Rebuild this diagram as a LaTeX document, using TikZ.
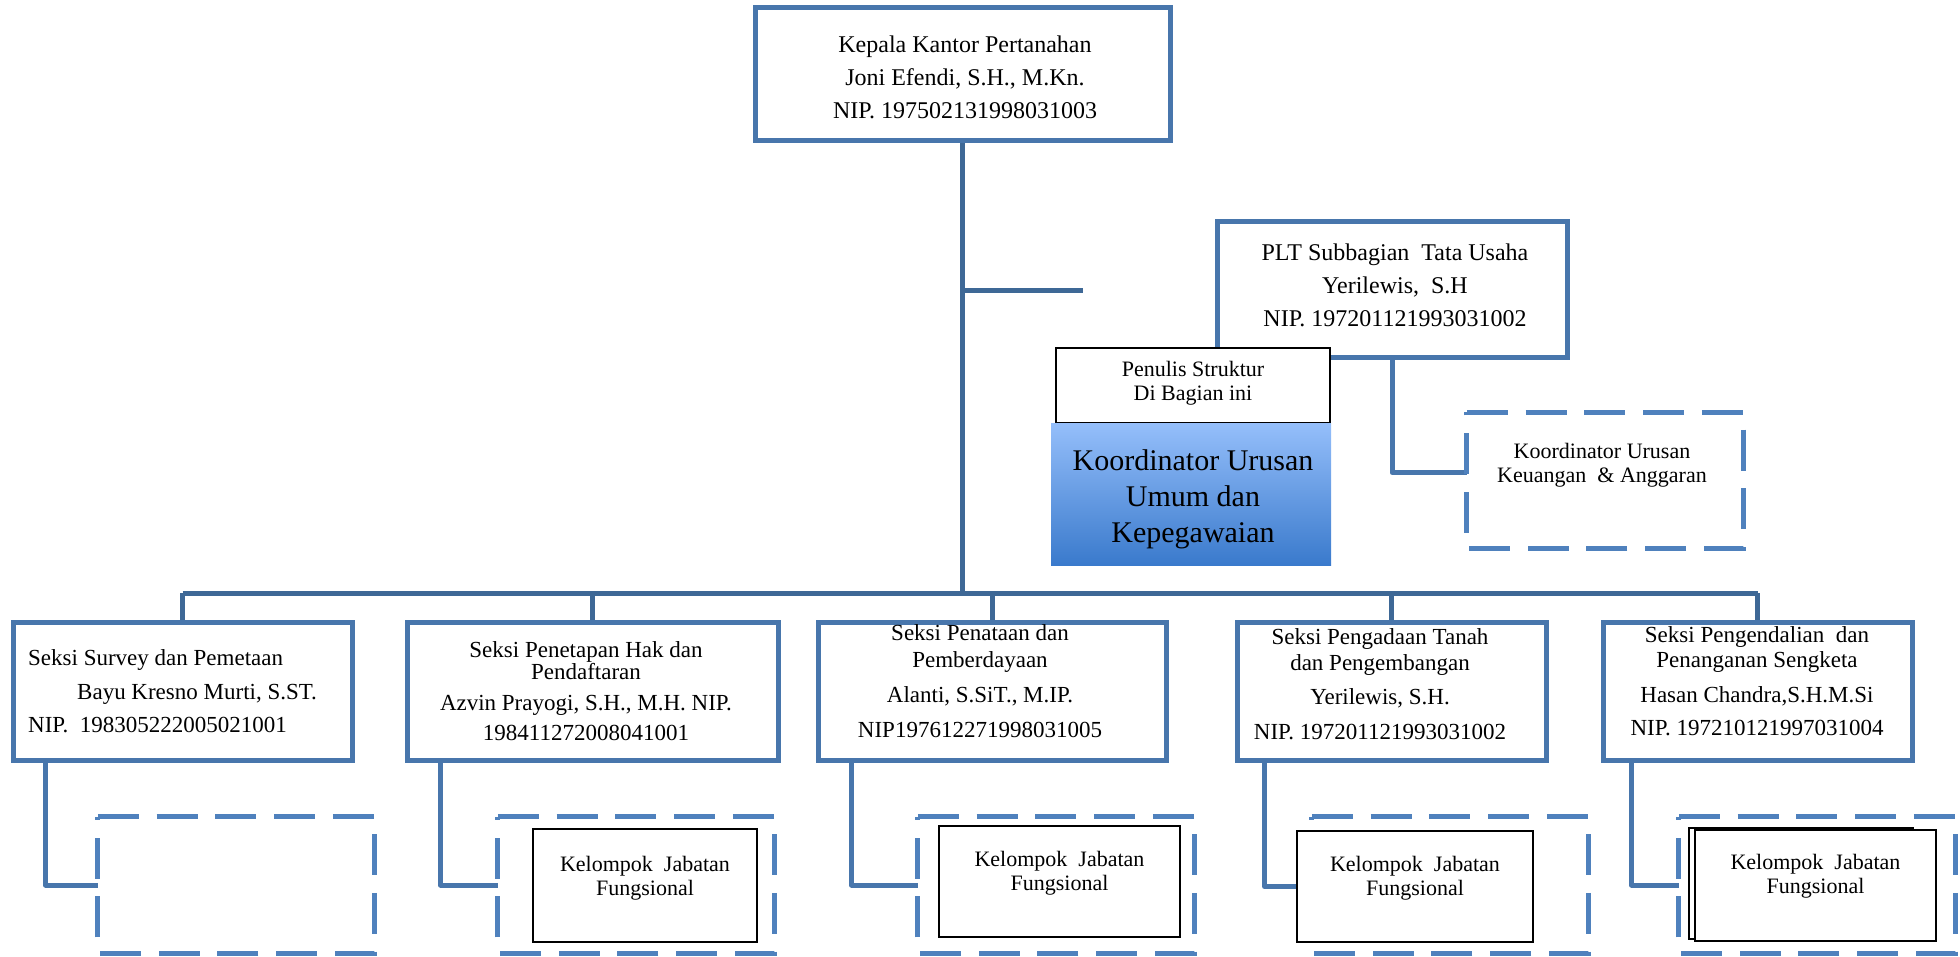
\documentclass[tikz,border=0pt]{standalone}
\usepackage{fontspec}
\setmainfont{Liberation Serif}

\definecolor{boxblue}{RGB}{72,118,172}
\definecolor{trunkblue}{RGB}{62,104,150}
\definecolor{dashblue}{RGB}{79,129,189}
\definecolor{gradtop}{RGB}{148,190,250}
\definecolor{gradbot}{RGB}{58,122,204}

\newcommand{\fsHead}{\fontsize{24}{33}\selectfont}
\newcommand{\fsNote}{\fontsize{22}{24}\selectfont}
\newcommand{\fsBig}{\fontsize{30}{36}\selectfont}

% dashed frame round a named node
\newcommand{\dashframe}[1]{%
  \draw[frame] (#1.north west) -- (#1.north east) -- (#1.south east) -- (#1.south west) -- cycle;}

\begin{document}
\begin{tikzpicture}[x=1pt,y=-1pt,
    office/.style={draw=boxblue, line width=5pt, fill=white, inner sep=0pt},
    note/.style={draw=black, line width=1.8pt, fill=white, inner sep=0pt},
    vacant/.style={inner sep=0pt, minimum width=276pt, minimum height=136pt},
    trunk/.style={draw=trunkblue, line width=5pt},
    link/.style={draw=boxblue, line width=5pt, line join=round},
    frame/.style={draw=dashblue, line width=5pt, dash pattern=on 41pt off 17.75pt},
    txt/.style={align=center, inner sep=0pt}]

  \useasboundingbox (0,0) rectangle (1960,957);

  % head office
  \node[office, minimum width=415pt, minimum height=133pt] (kepala) at (962.5,74.5) {};
  \node[txt, font=\fsHead] (kepalat) at (965,77)
    {Kepala Kantor Pertanahan\\Joni Efendi, S.H., M.Kn.\\NIP. 197502131998031003};

  % sub office on the right
  \node[office, minimum width=350pt, minimum height=136pt] (plt) at (1392,290) {};
  \node[txt, font=\fsHead] (pltt) at (1395,285)
    {PLT Subbagian\ \ Tata Usaha\\Yerilewis,\ \ S.H\\NIP. 197201121993031002};

  \node[note, minimum width=274pt, minimum height=75pt] (penulis) at (1193,385.5) {};
  \node[txt, font=\fsNote] (penulist) at (1193,383) {Penulis Struktur\\Di Bagian ini};

  \node[inner sep=0pt, minimum width=280pt, minimum height=141pt,
        top color=gradtop, bottom color=gradbot] (umum) at (1191,494.5) {};
  \node[txt, font=\fsBig] (umumt) at (1193,499) {Koordinator Urusan\\Umum dan\\Kepegawaian};

  \node[vacant] (keu) at (1605,480.5) {};
  \node[txt, font=\fsNote] (keut) at (1602,465) {Koordinator Urusan\\Keuangan\ \ \& Anggaran};

  % sections
  \node[office, minimum width=339pt, minimum height=138pt] (s1) at (182.5,691) {};
  \node[office, minimum width=371pt, minimum height=138pt] (s2) at (592.5,691) {};
  \node[office, minimum width=348pt, minimum height=138pt] (s3) at (992,691) {};
  \node[office, minimum width=309pt, minimum height=138pt] (s4) at (1391.5,691) {};
  \node[office, minimum width=309pt, minimum height=138pt] (s5) at (1757.5,691) {};

  \node[txt, align=left, anchor=west, font=\fontsize{23}{33.5}\selectfont] (s1t) at (28,691.5)
    {Seksi Survey dan Pemetaan\\\hspace*{49pt}Bayu Kresno Murti, S.ST.\\NIP.\ \ 198305222005021001};
  \node[txt, font=\fontsize{23}{22}\selectfont] (s2t) at (586,691.5)
    {Seksi Penetapan Hak dan\\Pendaftaran\\[9pt]Azvin Prayogi, S.H., M.H. NIP.\\[8pt]198411272008041001};
  \node[txt, font=\fontsize{23}{26}\selectfont] (s3t) at (980,681.5)
    {Seksi Penataan dan\\[1pt]Pemberdayaan\\[9pt]Alanti, S.SiT., M.IP.\\[9pt]NIP197612271998031005};
  \node[txt, font=\fontsize{23}{26}\selectfont] (s4t) at (1380,684.5)
    {Seksi Pengadaan Tanah\\dan Pengembangan\\[8pt]Yerilewis, S.H.\\[9pt]NIP. 197201121993031002};
  \node[txt, font=\fontsize{23}{25}\selectfont] (s5t) at (1757,681.5)
    {Seksi Pengendalian\ \ dan\\Penanganan Sengketa\\[10pt]Hasan Chandra,S.H.M.Si\\[8pt]NIP. 197210121997031004};

  % trunk and bus
  \coordinate (bus) at (964,593);
  \coordinate (stub) at (1083,291);
  \draw[trunk] (kepala.south) -- (kepala.south |- bus);
  \draw[trunk] (kepala.south |- stub) -- (stub);
  \draw[trunk] (s1.north |- bus) -- (s5.north |- bus);
  \foreach \i in {1,...,5}
    \draw[trunk] (s\i.north) -- (s\i.north |- bus);

  \draw[link] (plt.south) |- ([yshift=8pt]keu.west);
  \dashframe{keu}

  % functional groups
  \node[vacant] (d1) at (236,885) {};
  \node[vacant] (d2) at (636,885) {};
  \node[vacant] (d3) at (1056,885) {};
  \node[vacant] (d4) at (1450,885) {};
  \node[vacant] (d5) at (1817,885) {};
  \foreach \i in {1,...,5} {\dashframe{d\i}}

  \node[note, minimum width=224pt, minimum height=113pt] (k2) at (645,885.5) {};
  \node[note, minimum width=241pt, minimum height=111pt] (k3) at (1059.5,881.5) {};
  \node[note, minimum width=236pt, minimum height=111pt] (k4) at (1415,886.5) {};
  \node[note, minimum width=224pt, minimum height=111pt] (k5b) at (1801,883.5) {};
  \node[note, minimum width=241pt, minimum height=111pt] (k5) at (1815.5,885.5) {};

  \node[txt, font=\fsNote] (k2t) at (645,878) {Kelompok\ \ Jabatan\\Fungsional};
  \node[txt, font=\fsNote] (k3t) at (1059.5,873) {Kelompok\ \ Jabatan\\Fungsional};
  \node[txt, font=\fsNote] (k4t) at (1415,878.5) {Kelompok\ \ Jabatan\\Fungsional};
  \node[txt, font=\fsNote] (k5t) at (1815.5,876.5) {Kelompok\ \ Jabatan\\Fungsional};

  \draw[link] ([xshift=35pt]s1.south west) |- (d1.west);
  \draw[link] ([xshift=36pt]s2.south west) |- (d2.west);
  \draw[link] ([xshift=36pt]s3.south west) |- (d3.west);
  \draw[link] ([xshift=30pt]s4.south west) |- (k4.west);
  \draw[link] ([xshift=31pt]s5.south west) |- (d5.west);
\end{tikzpicture}
\end{document}
